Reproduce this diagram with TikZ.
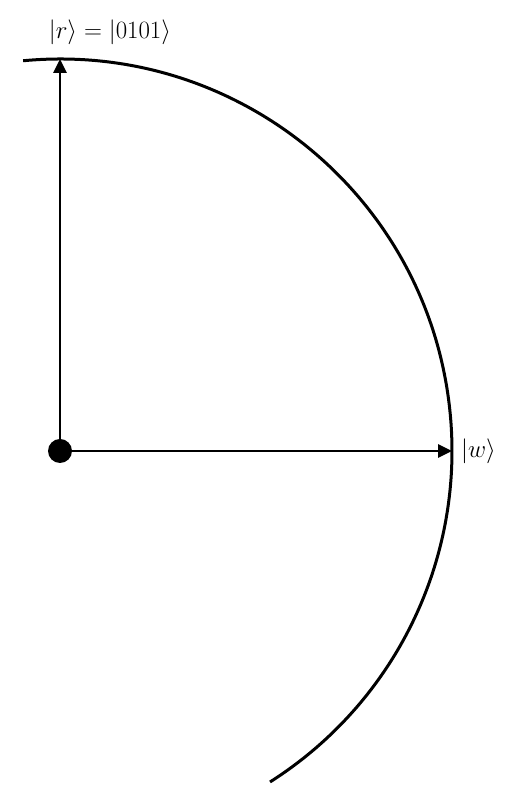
\documentclass[tikz,border=0pt]{standalone}
\usetikzlibrary{arrows.meta}
\begin{document}
\begin{tikzpicture}[x=1pt,y=1pt,
  vec/.style={line width=2.8pt,-{Triangle[length=14pt,width=13pt]}},
  lbl/.style={font=\fontsize{24.5}{28}\selectfont, inner sep=0pt}]
\useasboundingbox (0,0) rectangle (507,799);
\coordinate (o) at (60,348);
\draw[line width=3pt] (o) ++(95.4:392) arc[start angle=95.4,end angle=-57.6,radius=392];
\coordinate (r) at (60,740);
\coordinate (w) at (452,348);
\draw[vec] (o) -- (r);
\draw[vec] (o) -- (w);
\fill (o) circle[radius=12];
\node[lbl] (rl) at (110,767) {$|r\rangle = |0101\rangle$};
\node[lbl,anchor=west] (wl) at (461,348) {$|w\rangle$};
\end{tikzpicture}
\end{document}
